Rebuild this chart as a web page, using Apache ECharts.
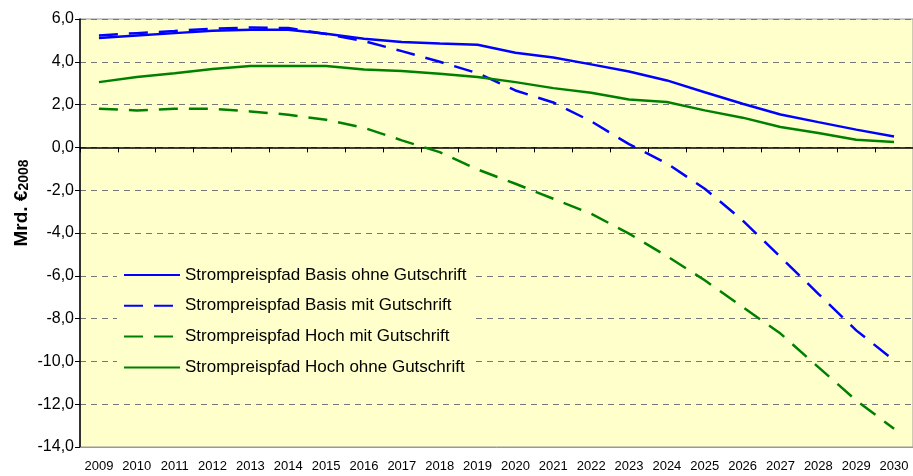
<!DOCTYPE html>
<html>
<head>
<meta charset="utf-8">
<script src="https://cdn.jsdelivr.net/npm/echarts@6/dist/echarts.min.js"></script>
<style>
  html, body { margin: 0; padding: 0; background: #ffffff; }
  #chart { width: 913px; height: 476px; }
</style>
</head>
<body>
<div id="chart"></div>
<script>
// Jahre
var years = ['2009', '2010', '2011', '2012', '2013', '2014', '2015', '2016', '2017', '2018', '2019',
  '2020', '2021', '2022', '2023', '2024', '2025', '2026', '2027', '2028', '2029', '2030']

// Werte in Mrd. €2008
var basisOhne = [5.11, 5.23, 5.34, 5.45, 5.5, 5.5, 5.31, 5.08, 4.92, 4.85, 4.8,
  4.42, 4.2, 3.88, 3.55, 3.13, 2.58, 2.04, 1.54, 1.18, 0.83, 0.51]
var basisMit = [5.23, 5.34, 5.44, 5.55, 5.6, 5.58, 5.3, 4.97, 4.5, 4.0, 3.47,
  2.66, 2.1, 1.22, 0.15, -0.75, -1.93, -3.41, -5.12, -6.84, -8.55, -9.95]
var hochMit = [1.81, 1.73, 1.81, 1.8, 1.68, 1.53, 1.29, 0.92, 0.33, -0.22, -1.03,
  -1.7, -2.4, -3.1, -4.03, -5.08, -6.21, -7.46, -8.7, -10.27, -11.82, -13.15]
var hochOhne = [3.05, 3.29, 3.47, 3.66, 3.8, 3.8, 3.8, 3.64, 3.57, 3.44, 3.29,
  3.05, 2.77, 2.55, 2.24, 2.12, 1.73, 1.39, 0.95, 0.67, 0.36, 0.25]

var font = '"Liberation Sans", Arial, sans-serif'
var dash = [19, 11]

function makeLine(name, data, color, dashed) {
  return {
    name: name,
    type: 'line',
    xAxisIndex: 0,
    data: data,
    symbol: 'none',
    smooth: false,
    lineStyle: { color: color, width: 2.5, type: dashed ? dash : 'solid' },
    itemStyle: { color: color }
  }
}

var myChart = echarts.init(document.getElementById('chart'))
myChart.setOption({
  animation: false,
  textStyle: { fontFamily: font },
  grid: {
    left: 80,
    top: 19,
    right: -2,
    bottom: 29,
    show: true,
    backgroundColor: '#FFFFCC',
    borderColor: '#999999',
    borderWidth: 1
  },
  legend: {
    orient: 'vertical',
    left: 117,
    top: 259,
    padding: [6, 6, 6, 6],
    backgroundColor: '#FFFFCC',
    itemWidth: 56,
    itemHeight: 20,
    itemGap: 10.8,
    selectedMode: false,
    // nur die Linie zeigen, keinen Punkt
    itemStyle: { color: 'rgba(0,0,0,0)', borderWidth: 0, opacity: 0 },
    textStyle: { fontSize: 17, color: '#000', fontFamily: font, lineHeight: 20 },
    data: ['Strompreispfad Basis ohne Gutschrift', 'Strompreispfad Basis mit Gutschrift',
      'Strompreispfad Hoch mit Gutschrift', 'Strompreispfad Hoch ohne Gutschrift']
  },
  xAxis: [
    {
      type: 'category',
      data: years,
      position: 'bottom',
      boundaryGap: true,
      axisLine: { onZero: false, lineStyle: { color: '#999999', width: 1 } },
      axisTick: { show: false },
      axisLabel: { fontSize: 13, color: '#000', margin: 13, interval: 0 },
      splitLine: { show: false }
    },
    {
      type: 'category',
      data: years,
      position: 'top',
      boundaryGap: true,
      axisLine: { onZero: true, lineStyle: { color: '#000', width: 1.5 } },
      axisTick: { show: true, inside: true, length: 5, interval: 0, lineStyle: { color: '#000' } },
      axisLabel: { show: false },
      splitLine: { show: false }
    }
  ],
  yAxis: {
    type: 'value',
    min: -14,
    max: 6,
    interval: 2,
    axisLine: { show: true, onZero: false, lineStyle: { color: '#000', width: 1.5 } },
    axisTick: { show: true, length: 5, lineStyle: { color: '#000' } },
    axisLabel: {
      fontSize: 16,
      color: '#000',
      margin: 6,
      formatter: function (v) { return v.toFixed(1).replace('.', ',') }
    },
    splitLine: { show: true, lineStyle: { color: '#777777', type: [6, 5], width: 1 } }
  },
  graphic: [
    {
      type: 'text',
      x: 22,
      y: 203,
      rotation: Math.PI / 2,
      style: {
        text: '{a|Mrd. €}{b|2008}',
        align: 'center',
        verticalAlign: 'middle',
        fill: '#000',
        rich: {
          a: { fontSize: 19, fontWeight: 'bold', fontFamily: font, fill: '#000', verticalAlign: 'middle' },
          b: { fontSize: 14, fontWeight: 'bold', fontFamily: font, fill: '#000', verticalAlign: 'bottom' }
        }
      }
    }
  ],
  series: [
    makeLine('Strompreispfad Basis ohne Gutschrift', basisOhne, '#0000FF', false),
    makeLine('Strompreispfad Basis mit Gutschrift', basisMit, '#0000FF', true),
    makeLine('Strompreispfad Hoch mit Gutschrift', hochMit, '#008000', true),
    makeLine('Strompreispfad Hoch ohne Gutschrift', hochOhne, '#008000', false)
  ]
})
</script>
</body>
</html>
